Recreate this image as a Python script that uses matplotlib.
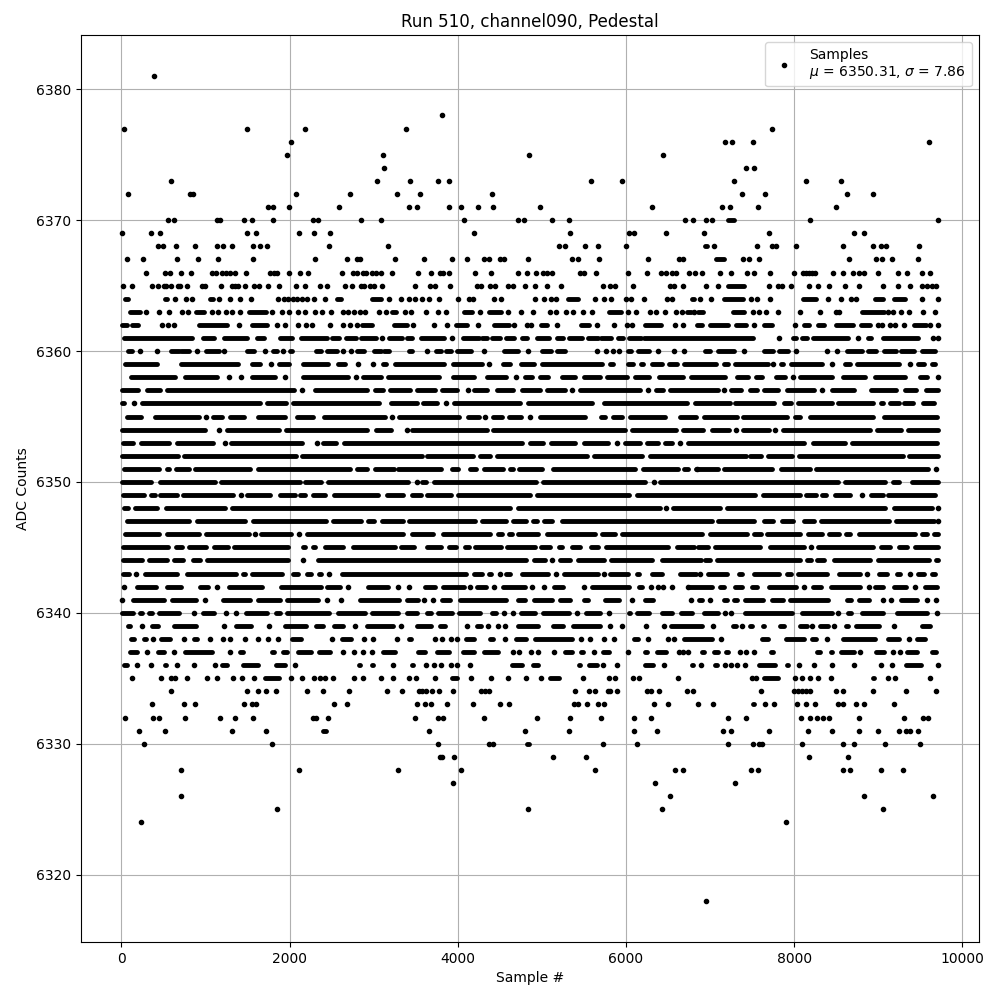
import matplotlib
matplotlib.use("Agg")
import matplotlib.pyplot as plt

# Sample positions, one list per ADC level.
# A number is one sample; a tuple is a stretch of adjoining samples too dense to separate.
adc_6381 = [385]
adc_6378 = [3813]
adc_6377 = [28, 1492, 2182, 3385, 7742]
adc_6376 = [2016, 7183, 7266, 7516, 9599]
adc_6375 = [1968, 3111, 4849, 6444]
adc_6374 = [3123, 7433, 7528]
adc_6373 = [587, 3043, 3432, 3765, 3896, 5587, 5956, 7290, 8147, 8552]
adc_6372 = [75, 821, 845, 2075, 2718, 3277, 3551, 4408, 7385, 7659, 8635, 8933]
adc_6371 = [1742, 1798, 1992, 2587, 3420, 3515, 3896, 4039, 4242, 4420, 4980, 6313, 7147, 7242, 7576, 8504]
adc_6370 = [548, 623, 1139, 1171, 1456, 1551, 1801, 2278, 2337, 2849, 3091, 4075, 4718, 4789, 5123, 5325,
            6707, 6802, 6957, 7028, (7210, 7290), 8195, 9706]
adc_6369 = [4, 349, 456, 1492, 1599, 2111, 2290, 2480, 4194, 5337, 6035, 6099, 6480, 6933, 7707, 8707, 8837]
adc_6368 = [433, 492, 647, 873, 1135, 1206, 1313, 1563, 1647, 1730, 2468, 3170, 5206, 5277, 5515, 5670, 6003,
            (6945, 6965), 7052, 7564, 7742, 7786, 8028, 8576, 8937, 9036, 9095, 9480]
adc_6367 = [63, 254, 659, 909, 1147, 1563, 2301, 2682, 2801, 2837, 3254, 3599, 3932, 4115, 4313, 4373, 4504, 4551,
            4837, 5361, 5432, 5682, 6265, 6634, 6683, (7072, 7171), 7397, 7468, 7587, 8651, 8976, 9048, 9159, 9468]
adc_6366 = [290, 516, 575, 706, 825, 1075, 1123, 1194, 1242, 1290, 1349, 1480, 1766, 1813, 1849, 1992, 2123, 2218,
            2623, 2754, 2801, 2873, 2908, 2980, 3028, 3083, 3218, 3527, 3682, 3789, 3825, 3896, 4206, 4396, 4718,
            4825, 4932, 5015, 5067, 5115, 5456, 5507, 5646, 6027, 6253, 6420, 6480, 6551, 6599, 6754, 6822, 6909,
            7123, 7254, 7445, 7528, 7718, 8004, 8103, 8139, 8175, 8211, 8250, 8468, 8576, 8706, 8766, 8826, 8992,
            9230, 9337, 9516, 9611]
adc_6365 = [16, 123, 361, 433, 504, 528, 587, 671, 694, 778, 956, 992, 1182, 1313, 1349, 1385, 1468, 1575, 1635,
            1742, 1873, 2075, 2182, 2361, 2444, 2659, 2742, 2849, 2885, 2956, 3004, 3103, 3492, 3670, 3730, 3908,
            4230, 4277, 4384, 4444, 4599, 4658, 4805, 4920, 5063, 5230, 5730, 5813, 5872, 6087, 6527, 6575, 6683,
            6957, 7099, (7210, 7409), 7707, 7806, 7861, 7964, 8183, 8290, 8417, 8607, 8766, 9056, 9234, 9373,
            9520, 9580, 9639, 9683]
adc_6364 = [(48, 79), (516, 544), 635, 770, 837, (1052, 1083), 1159, 1286, 1409, 1536, 1861, 1932, 1980, 2040, 2091,
            2151, 2210, 2290, 2420, (2560, 2615), (2984, 3083), 3182, 3325, 3416, 3492, 3575, 3658, 3777, 4004, 4135,
            4182, 4432, 4515, 4916, 5027, 5111, 5170, (5305, 5424), 5634, 5741, 5825, 6003, 6063, 6214, 6487, 6551,
            (6786, 6814), 6885, 7016, (7171, 7389), 7492, 7564, 7718, (8103, 8262), 8409, 8552, 8679, 8734,
            (8968, 9056), (9194, 9314), 9516, 9706]
adc_6363 = [(99, 226), 286, 444, 563, 722, 790, (881, 980), 1075, 1147, 1246, 1317, 1409, (1516, 1714), 1794, 1913,
            1992, 2099, 2178, 2301, 2389, 2496, 2631, 2694, 2766, 2837, 2897, 3063, 3143, (3222, 3270), 3373, 3444,
            3619, 3765, 3861, (4075, 4174), 4265, (4373, 4511), 4599, 4750, 4900, 5099, 5166, 5289, 5372, 5488,
            5591, (5801, 5940), 6027, 6118, 6289, 6361, 6463, 6595, 6670, (6730, 6770), 6810, (6860, 6921),
            (7278, 7409), 7516, 7587, 7671, 7806, 8076, 8314, 8496, 8540, (8802, 9075), 9115, 9175, 9266, 9361,
            9536, 9671]
adc_6362 = [(4, 67), (127, 194), 480, 552, 623, (925, 1258), 1397, (1548, 1734), 1849, 1944, 2099, 2194, 2266, 2480,
            2635, 2718, 2801, (2857, 2984), (3242, 3392), 3468, 3718, 3877, (3976, 4115), 4242, (4432, 4611), 4670,
            4829, 4869, (4995, 5059), 5186, (5464, 5563), 5658, 5860, 6011, 6067, (6226, 6416), 6587, 6683,
            (6841, 6901), (7004, 7210), (7310, 7429), 7528, (7639, 7734), 8012, (8115, 8183), (8290, 8361),
            (8500, 8699), (8798, 8897), 8996, 9048, 9135, 9195, 9302, (9421, 9572), 9611, 9706]
adc_6361 = [(28, 841), (972, 1099), (1218, 1496), (1607, 1694), (1885, 2032), (2131, 2448), (2508, 2587), (2667, 2785),
            (2845, 3024), 3103, (3182, 3341), (3400, 3460), (3559, 3837), 3936, (4067, 4254), (4293, 4353),
            (4404, 4504), (4575, 4670), (4769, 4829), (4948, 5087), (5186, 5246), (5325, 5483), (5551, 5662),
            (5702, 5821), (5900, 5960), (6039, 6178), (6218, 7508), 7826, (7984, 8024), (8091, 8155), (8222, 8639),
            8758, (8877, 8917), (9056, 9472), 9651, 9706]
adc_6360 = [(75, 127), 218, 421, (591, 683), (714, 802), 901, (1008, 1159), 1218, (1496, 1575), 1706, (1806, 1853),
            1924, (2004, 2032), (2309, 2369), (2448, 2567), 2635, 2730, (2805, 2885), (3004, 3083), (3123, 3182),
            (3420, 3460), 3638, (3738, 3797), (3865, 3924), (3988, 4155), 4313, (4551, 4718), 4837, (5007, 5107),
            (5186, 5277), 5658, 5765, 5849, 5920, (6019, 6059), (6138, 6277), 6377, 6575, 6687, (6941, 7004),
            (7091, 7282), 7409, (7647, 7746), (7826, 7933), 8028, 8397, 8516, (8631, 8810), (8877, 8976),
            (9075, 9214), (9274, 9432), (9520, 9679)]
adc_6359 = [(40, 425), (706, 1385), (1548, 1651), 1782, (1877, 1992), (2155, 2456), (2579, 2655), 2813, 2992,
            (3107, 3151), (3254, 3833), (3940, 4289), 4373, (4535, 4619), (4750, 4908), (5000, 5710), (5805, 5849),
            (6019, 6087), (6178, 6206), (6309, 6424), (6507, 6603), (6686, 7071), (7163, 7210), (7302, 7687), 7754,
            (7845, 7873), (7964, 8337), 8445, (8611, 8667), (8750, 9242), 9381, (9476, 9548), (9643, 9679)]
adc_6358 = [(119, 639), (754, 1135), 1274, 1421, (1548, 1829), 1944, (2163, 2694), 2790, (2877, 3091), (3174, 3773),
            (3940, 4194), (4345, 4579), 4690, (4801, 4884), (4980, 5075), (5238, 5392), (5496, 5690), (5773, 6007),
            (6103, 6277), (6388, 6680), (6774, 7179), (7322, 7449), (7544, 7623), (7790, 7893), 7984, (8076, 8456),
            (8583, 8845), (8968, 9322), (9496, 9579), 9706]
adc_6357 = [(8, 202), (298, 464), (544, 2052), 2151, (2302, 2924), (3016, 3111), (3194, 3428), (3511, 3726),
            (3817, 3992), 4119, (4198, 4353), (4472, 4658), (4761, 4976), (5059, 5273), 5361, (5456, 6166), 6261,
            (6357, 6444), (6527, 7099), 7171, (7250, 7369), (7480, 7556), (7639, 7806), (7917, 8242), 8333,
            (8452, 8718), (8909, 9214), (9318, 9448), (9564, 9708)]
adc_6356 = [(8, 36), 151, (250, 1651), (1734, 1960), (2044, 3059), (3202, 3510), (3591, 3758), 3861, (3960, 4738),
            (4841, 5591), (5734, 6726), (6818, 7238), (7302, 7766), (7885, 7964), (8044, 8448), (8520, 8933),
            (9036, 9063), (9135, 9242), (9306, 9420), (9532, 9659)]
adc_6355 = [(67, 234), (397, 921), 1008, (1091, 1198), (1290, 1456), (1627, 1940), (2091, 2278), (2409, 3139), 3222,
            (3306, 4015), (4127, 4254), 4325, (4416, 4531), (4615, 4757), 4861, (4980, 5511), (5706, 5749),
            (5845, 5948), (6043, 6464), (6638, 6833), (6933, 7318), (7393, 7913), (8008, 8072), (8195, 8944),
            (9067, 9698)]
adc_6354 = [(8, 996), 1163, (1258, 1873), (1956, 2924), (3028, 3210), 3392, (3452, 4353), (4424, 5988), (6071, 6591),
            (6678, 6921), (7024, 7226), 7310, (7389, 7703), 7778, (7865, 8905), (8988, 9274), (9353, 9708)]
adc_6353 = [(20, 135), (230, 563), (663, 1087), 1226, (1298, 2147), 2321, (2401, 2555), (2647, 4765), (4861, 5016),
            (5111, 5392), (5496, 5789), 5892, (5992, 6166), (6249, 6384), (6468, 6543), 6646, (6734, 8123),
            (8222, 8607), (8691, 9698)]
adc_6352 = [(8, 671), (746, 2075), (2151, 3571), (3638, 4182), (4265, 4381), (4464, 5531), (5615, 6186), (6289, 7428),
            (7480, 7607), (7687, 7980), (8056, 9290), (9365, 9708)]
adc_6351 = [(28, 452), (536, 571), (647, 798), (877, 1532), (1627, 2714), (2805, 2924), (3016, 3242), (3290, 3797),
            (3936, 4003), (4146, 4222), (4313, 4539), (4623, 4658), (4734, 4996), (5138, 6107), (6202, 6614),
            (6686, 6733), 6840, (6838, 7091), (7171, 7742), (7849, 8191), (8262, 9591), 9683]
adc_6350 = [(8, 353), (456, 1107), (1178, 2119), (2182, 2369), (2460, 3404), 3519, (3579, 3627), (3718, 4936),
            (5011, 6226), 6333, (6408, 8520), (8603, 9083), (9179, 9242), (9405, 9708)]
adc_6349 = [(20, 274), (357, 393), (464, 659), (734, 1325), 1421, (1496, 1762), (1885, 2059), (2123, 2178), (2274, 2417),
            (2528, 3051), (3163, 3345), (3452, 3559), (3638, 3924), (4007, 4857), (4940, 6035), (6130, 7536),
            (7627, 8072), (8147, 8258), (8333, 8381), (8484, 8667), 8806, (8909, 9052), (9115, 9671)]
adc_6348 = [(32, 75), (159, 421), (528, 1226), (1309, 4619), (4722, 6404), 6472, (6559, 7123), (7203, 9083),
            (9187, 9639), 9706]
adc_6347 = [(67, 798), (893, 1472), (1559, 2436), (2512, 2853), (2936, 3004), (3095, 3349), (3424, 4202), (4285, 4579),
            (4662, 4817), (4900, 4948), (5027, 5115), (5238, 7024), (7095, 7528), (7639, 7754), (7857, 7992),
            (8123, 8242), (8322, 9131), (9210, 9659), 9708]
adc_6346 = [(40, 452), (544, 917), (1000, 1512), 1587, (1655, 2012), 2111, (2210, 3349), (3452, 3706), (3829, 4381),
            (4476, 4531), (4607, 4646), (4722, 4956), (5059, 5631), (5714, 5869), (5952, 6909), (6996, 7437),
            (7520, 7607), (7679, 8072), (8163, 8337), (8413, 8536), (8623, 8667), (8770, 9440), (9524, 9579),
            (9663, 9708)]
adc_6345 = [(20, 552), (647, 718), (806, 1000), (1099, 1266), (1341, 1980), (2163, 2187), (2282, 2298), (2421, 2635),
            (2758, 3250), (3321, 3484), (3638, 3805), (3900, 3984), (4087, 4131), (4206, 4519), (4591, 4916),
            (4992, 5095), (5198, 5234), (5357, 5452), (5583, 5670), (5765, 6503), (6607, 6805), (6853, 6972),
            (7064, 7595), (7711, 8123), 8206, (8282, 8944), (9028, 9143), (9246, 9341), (9433, 9708)]
adc_6344 = [(20, 242), (329, 540), (627, 730), (845, 929), (1012, 1980), 2159, (2341, 4817), (4912, 5035), 5119,
            (5218, 5333), (5424, 5741), (5821, 6305), (6428, 6893), (6945, 7000), (7084, 8072), (8155, 8202),
            (8274, 8361), (8472, 8905), (8996, 9599), (9683, 9708)]
adc_6343 = [(20, 95), 167, (278, 663), (774, 1365), (1440, 1464), (1548, 1909), (2036, 2099), (2210, 2258), (2353, 2369),
            2472, (2627, 4103), (4194, 4289), (4377, 4400), 4500, (4575, 4619), (4769, 5075), 5174, (5269, 5670), 5741,
            (5813, 6027), (6130, 6154), (6309, 6424), (6646, 6837), 6885, (6972, 7199), (7341, 7385), (7520, 7822),
            (7917, 7964), (8044, 8389), (8540, 8786), 8865, (9008, 9103), (9226, 9262), 9381, (9472, 9540), (9643, 9679)]
adc_6342 = [28, (190, 413), (544, 710), (933, 1028), 1139, (1282, 1671), (1897, 2369), (2448, 2595), 2698, (2936, 3170),
            3294, 3420, (3611, 3726), (3829, 4075), 4143, (4234, 4341), 4432, (4543, 4805), 4881, 5023, (5146, 5254),
            5507, (5595, 6035), (6150, 6194), 6301, 6377, 6444, 6543, 6742, (6746, 7020), (7123, 7171), (7302, 7377),
            (7500, 7556), (7699, 8020), 8123, (8226, 8322), (8433, 8786), 8889, (8968, 9063), (9194, 9329), 9433,
            (9552, 9698)]
adc_6341 = [12, (139, 504), (607, 889), 988, (1202, 1524), (1627, 1881), (1972, 2337), 2444, 2615, (2837, 3300),
            (3400, 3527), 3603, 3710, (3809, 3904), (4027, 4579), (4722, 4797), (4908, 5115), (5218, 5333),
            (5496, 5551), (5754, 5916), 6067, (6229, 6325), 6774, (6865, 6900), 7000, (7171, 7199), (7290, 7318),
            (7421, 7635), (7738, 7873), (7957, 8409), (8631, 8679), (8770, 8893), 9056, 9147, (9266, 9460), 9583, 9690]
adc_6340 = [(12, 135), (218, 242), (329, 361), (448, 690), 865, (964, 1099), 1242, 1361, (1476, 1734), (1837, 1881),
            (1972, 2464), (2579, 2893), (2976, 3290), (3392, 3519), (3638, 3678), (3770, 3932), (4019, 4261),
            (4404, 4460), 4551, 4654, (4750, 4916), (5019, 5321), 5420, (5523, 5690), 5793, (6031, 6047), (6130, 6273),
            (6428, 6543), (6655, 6790), (6925, 7099), 7175, 7254, (7421, 7980), (8095, 8456), 8520, (8639, 8679),
            (8810, 9052), (9218, 9579), 9698]
adc_6339 = [(79, 107), 242, (369, 440), (623, 889), 1218, (1357, 1544), 1750, (1944, 2190), (2309, 2397), (2528, 2635),
            2778, (2924, 3230), 3321, (3511, 3686), (3789, 3845), 4115, (4226, 4273), 4365, 4480, 4563, (4722, 4956),
            (5138, 5254), (5369, 5690), 5813, 5948, 6237, 6448, (6535, 6900), 7032, (7274, 7306), 7385, (7480, 7504),
            (7631, 7647), (7829, 7885), (8068, 8151), 8210, (8306, 8409), 8480, (8619, 8647), (8742, 9004), 9183,
            (9524, 9619)]
adc_6338 = [(119, 147), (270, 294), 373, (468, 583), 746, (861, 901), 1052, 1206, 1286, 1468, 1623, 1742, 1861,
            (2024, 2131), 2508, (2619, 2734), 2885, 2992, 3281, (3416, 3448), 3730, 3813, 3924, 3992, (4099, 4194),
            (4385, 4420), 4559, (4694, 4817), (4920, 5353), 5464, 5575, 5734, 5853, (6099, 6146), 6265, 6503, 6567,
            (6695, 7020), 7135, (7619, 7687), (7905, 8123), (8210, 8258), 8393, (8579, 8964), (9115, 9242), 9361,
            (9456, 9560)]
adc_6337 = [(99, 183), 302, (436, 504), 623, (758, 1079), 1290, (1409, 1444), (1786, 1813), (1924, 1972), (2103, 2250),
            (2353, 2476), 2635, 2766, 2869, 2984, (3115, 3250), (3531, 3607), (3750, 3892), (4067, 4194), (4317, 4480),
            4658, 4730, 4865, 4956, 5146, (5277, 5353), (5464, 5491), 5622, (5726, 5797), 6027, (6230, 6245),
            (6369, 6472), 6635, 6675, 6742, (6905, 6933), (7044, 7091), (7195, 7218), 7361, 7433, 7520, (7726, 7754),
            (8274, 8309), (8433, 8456), (8560, 8707), 8778, (8980, 9075), 9171, 9254, (9345, 9460), (9643, 9690)]
adc_6336 = [(28, 63), 183, 357, (512, 528), 659, 861, 1111, (1198, 1258), (1448, 1623), (1833, 1940), 2063, (2829, 2840),
            (2976, 2990), 3230, (3452, 3470), 3623, 3718, 3801, 3924, 3992, 4146, (4650, 4758), (4900, 4956),
            (5436, 5452), (5555, 5654), 5730, 5888, (6230, 6325), 6456, (6786, 6802), 6897, (7064, 7080), 7183, 7254,
            7326, 7421, (7579, 7774), (7917, 7933), 8064, 8242, 8448, 8707, 9028, 9159, (9333, 9504), 9706]
adc_6335 = [123, 468, 587, 635, 774, 1016, 1139, 1325, 1432, 1575, (1706, 1873), 2016, 2147, 2290, 2357, 2420, 2516, 2766,
            2873, 3083, 3234, 3420, 3504, 3730, (3936, 3990), 4162, 4392, 4599, 4813, 4992, (5095, 5206), 5491, 5801,
            5873, 6087, 6158, 6618, 7496, 7552, (7647, 7806), 8012, 8099, 8195, 8290, 8433, (8937, 8950), 9111, 9206, 9611]
adc_6334 = [587, 1492, 1623, 1718, 1837, 2206, 2397, 2706, 3158, 3333, 3539, 3579, 3627, 3694, 3777, 3944, 4273, 4325,
            4377, 5396, 5563, 5634, 5781, 5813, 5896, 6253, 6301, 6396, 6730, 6802, 7611, 7996, 8044, 8091, 8139, 8195,
            8496, 8583, 8933, 9325, 9683]
adc_6333 = [361, 742, 873, 1456, 1551, 1603, 2528, 2682, 3516, 3611, 3682, 3877, 4182, 4504, 4611, 5384, 5432, 5539, 5670,
            5742, 6337, 6503, 6861, 7040, (7508, 7528), 7659, 7766, 8040, 8147, 8254, 8528, 8576, 8742, 8826, 9194]
adc_6332 = [40, 373, 444, 754, 1171, 1349, 1563, 2278, 2317, 2456, 3492, 3765, 3821, 4313, 4944, 5337, 5706, 6099, 6301,
            7218, 7433, 8087, 8195, 8278, 8349, 8421, 8766, 9302, 9528, 9587]
adc_6331 = [206, 516, 1313, 1718, (2397, 2428), 3658, 4801, 5325, 6099, 6372, 7159, 7254, 7707, 8171, 8456, 8766, 8992,
            9242, 9325, 9373, 9468]
adc_6330 = [266, 1790, 3765, 4373, 4420, (4829, 4853), 5730, 6134, 7218, 7516, 7587, 7623, 8099, 8587, 8707, 9087, 9492]
adc_6329 = [3789, 3813, 3956, 5134, 5527, 8183, 8647]
adc_6328 = [706, 2111, 3289, 4039, 5634, 6587, 6683, 7492, 7576, 8576, 8659, 9028, 9290]
adc_6327 = [3944, 6349, 7302]
adc_6326 = [706, 6527, 8837, 9647]
adc_6325 = [1849, 4837, 6432, 9063]
adc_6324 = [230, 7909]
adc_6318 = [6952]

levels = {int(name[4:]): row for name, row in list(globals().items()) if name.startswith("adc_")}

title = "Run 510, channel090, Pedestal"
x_label = "Sample #"
y_label = "ADC Counts"
legend_label = "Samples\n$\\mu$ = 6350.31, $\\sigma$ = 7.86"

fig, ax = plt.subplots(figsize=(10, 10), dpi=100)

single_x, single_y = [], []
for level, row in levels.items():
    for item in row:
        if isinstance(item, tuple):
            ax.hlines(level, item[0], item[1], colors="k", linewidth=3.5, capstyle="round", zorder=2)
        else:
            single_x.append(item)
            single_y.append(level)

ax.plot(single_x, single_y, "k.", label=legend_label)
ax.set_title(title)
ax.set_xlabel(x_label)
ax.set_ylabel(y_label)
ax.grid(True)
ax.legend(loc="upper right")
fig.subplots_adjust(left=0.081, right=0.9785, top=0.965, bottom=0.058)
fig.savefig("out.png", dpi=100)
